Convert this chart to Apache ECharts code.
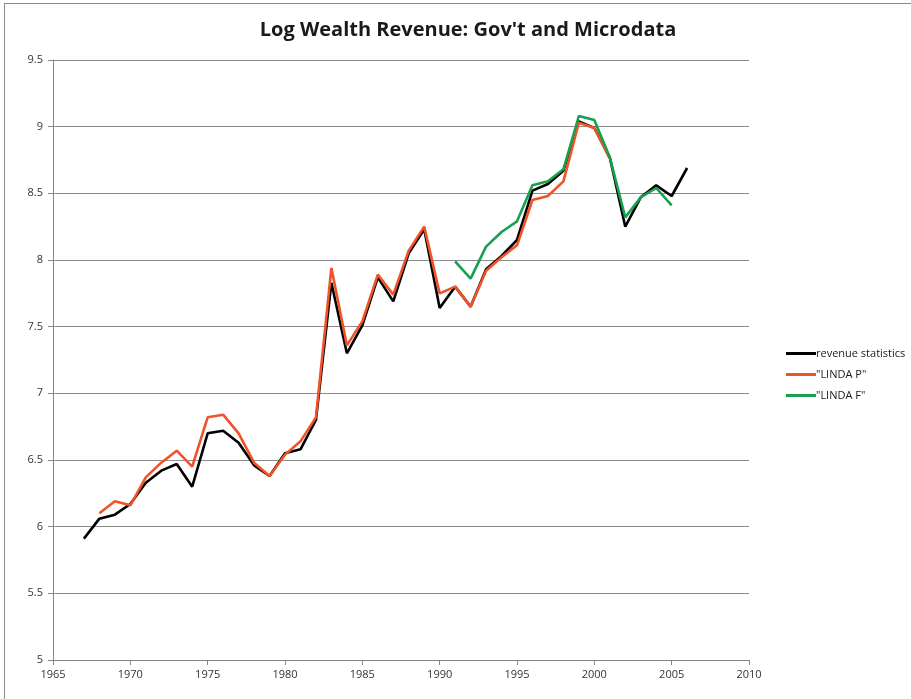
<!DOCTYPE html>
<html>
<head>
<meta charset="utf-8">
<script src="https://cdn.jsdelivr.net/npm/echarts@6/dist/echarts.min.js"></script>
<style>
html,body{margin:0;padding:0;background:#fff;}
#frame{position:absolute;left:4px;top:3px;width:920px;height:710px;border:1px solid #8c8c8c;}
#chart{position:absolute;left:0;top:0;width:911px;height:699px;}
</style>
</head>
<body>
<div id="frame"></div>
<div id="chart"></div>
<script>
// ---------- data ----------
var yearsRev = [1967,1968,1969,1970,1971,1972,1973,1974,1975,1976,1977,1978,1979,1980,1981,1982,1983,1984,1985,1986,1987,1988,1989,1990,1991,1992,1993,1994,1995,1996,1997,1998,1999,2000,2001,2002,2003,2004,2005,2006];
var revenue = [5.91,6.06,6.09,6.17,6.33,6.42,6.47,6.30,6.70,6.72,6.63,6.46,6.38,6.55,6.58,6.80,7.83,7.30,7.51,7.87,7.69,8.05,8.23,7.64,7.80,7.65,7.93,8.03,8.15,8.52,8.57,8.67,9.04,8.99,8.77,8.25,8.47,8.56,8.48,8.69];

var yearsP = [1968,1969,1970,1971,1972,1973,1974,1975,1976,1977,1978,1979,1980,1981,1982,1983,1984,1985,1986,1987,1988,1989,1990,1991,1992,1993,1994,1995,1996,1997,1998,1999,2000,2001];
var lindaP = [6.10,6.19,6.16,6.37,6.48,6.57,6.45,6.82,6.84,6.70,6.48,6.38,6.54,6.64,6.82,7.94,7.36,7.54,7.89,7.74,8.07,8.25,7.75,7.80,7.65,7.92,8.02,8.11,8.45,8.48,8.59,9.03,8.99,8.76];

var yearsF = [1991,1992,1993,1994,1995,1996,1997,1998,1999,2000,2001,2002,2003,2004,2005];
var lindaF = [7.99,7.86,8.10,8.21,8.29,8.56,8.59,8.68,9.08,9.05,8.77,8.32,8.47,8.54,8.41];

var seriesNames = ['revenue statistics', '"LINDA P"', '"LINDA F"'];
var seriesColors = ['#000000', '#F0522A', '#17A04F'];

function pairs(xs, ys){
    var out = [];
    for (var i=0;i<xs.length;i++){ out.push([xs[i], ys[i]]); }
    return out;
}

var dom = document.getElementById("chart");
var myChart = echarts.init(dom);

var labelFont = {fontFamily:'Open Sans, Liberation Sans, sans-serif', fontSize:11, color:'#333'};

option = {
    animation: false,
    title: {
        text: "Log Wealth Revenue: Gov't and Microdata",
        left: 463,
        textAlign: 'center',
        top: 15,
        textStyle: {fontFamily:'Open Sans, Liberation Sans, sans-serif', fontWeight:'bold', fontSize:20, color:'#1a1a1a'}
    },
    legend: {
        orient: 'vertical',
        left: 781,
        top: 343,
        itemGap: 10,
        itemWidth: 30,
        itemHeight: 3,
        icon: 'rect',
        data: seriesNames,
        textStyle: {fontFamily:'Open Sans, Liberation Sans, sans-serif', fontSize:11, color:'#1a1a1a', padding:[0,0,0,-5]}
    },
    grid: {left: 53, right: 162, top: 60, bottom: 39},
    xAxis: {
        type: 'value',
        min: 1965, max: 2010, interval: 5,
        axisLine: {show:true, lineStyle:{color:'#868686', width:1}},
        axisTick: {show:true, length:5, lineStyle:{color:'#868686'}},
        axisLabel: Object.assign({margin:9, formatter: function(v){ return String(v); }}, labelFont),
        splitLine: {show:false}
    },
    yAxis: {
        type: 'value',
        min: 5, max: 9.5, interval: 0.5,
        axisLine: {show:true, lineStyle:{color:'#868686', width:1}},
        axisTick: {show:true, length:5, lineStyle:{color:'#868686'}},
        axisLabel: Object.assign({margin:10}, labelFont),
        splitLine: {show:true, lineStyle:{color:'#8c8c8c', width:1}}
    },
    series: [
        {name: seriesNames[0], type:'line', data: pairs(yearsRev, revenue), showSymbol:false, symbol:'none',
         lineStyle:{width:2.6, color:seriesColors[0]}, itemStyle:{color:seriesColors[0]}},
        {name: seriesNames[1], type:'line', data: pairs(yearsP, lindaP), showSymbol:false, symbol:'none',
         lineStyle:{width:2.6, color:seriesColors[1]}, itemStyle:{color:seriesColors[1]}},
        {name: seriesNames[2], type:'line', data: pairs(yearsF, lindaF), showSymbol:false, symbol:'none',
         lineStyle:{width:2.6, color:seriesColors[2]}, itemStyle:{color:seriesColors[2]}}
    ]
};
myChart.setOption(option, true);
</script>
</body>
</html>
